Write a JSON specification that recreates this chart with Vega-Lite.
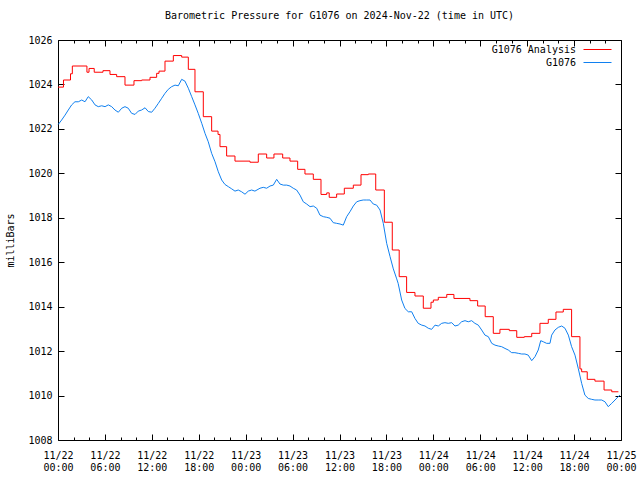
{
"$schema":"https://vega.github.io/schema/vega-lite/v6.json",
"width":563,"height":400,
"autosize":{"type":"none"},
"padding":{"left":58,"top":40,"right":19,"bottom":40},
"background":"white",
"title":{"text":"Barometric Pressure for G1076 on 2024-Nov-22 (time in UTC)","font":"DejaVu Sans Mono","fontSize":10,"fontWeight":"normal","offset":14,"anchor":"middle","color":"black"},
"config":{"view":{"stroke":"black","strokeWidth":1},"font":"DejaVu Sans Mono",
"axis":{"labelFont":"DejaVu Sans Mono","labelFontSize":10,"labelColor":"black","titleFont":"DejaVu Sans Mono","titleFontSize":10,"titleFontWeight":"normal","titleColor":"black","tickColor":"black","tickWidth":1,"grid":false,"domain":false},
"legend":{"orient":"none","direction":"vertical","title":null,"symbolType":"stroke","symbolSize":784,"symbolStrokeWidth":1,"labelAlign":"right","labelOffset":-36,"labelFontSize":10,"labelFont":"DejaVu Sans Mono","labelColor":"black","padding":0}},
"datasets":{
"an":[
{"t":"2024-11-22T00:00:00Z","p":1023.88},{"t":"2024-11-22T00:42:00Z","p":1024.20},{"t":"2024-11-22T01:36:00Z","p":1024.48},{"t":"2024-11-22T01:50:00Z","p":1024.83},{"t":"2024-11-22T03:42:00Z","p":1024.55},{"t":"2024-11-22T03:58:00Z","p":1024.72},{"t":"2024-11-22T04:38:00Z","p":1024.55},{"t":"2024-11-22T05:45:00Z","p":1024.62},{"t":"2024-11-22T06:39:00Z","p":1024.45},{"t":"2024-11-22T07:30:00Z","p":1024.35},{"t":"2024-11-22T08:34:00Z","p":1023.97},{"t":"2024-11-22T09:43:00Z","p":1024.17},{"t":"2024-11-22T10:42:00Z","p":1024.20},{"t":"2024-11-22T11:46:00Z","p":1024.32},{"t":"2024-11-22T12:37:00Z","p":1024.50},{"t":"2024-11-22T12:55:00Z","p":1024.60},{"t":"2024-11-22T13:41:00Z","p":1025.05},{"t":"2024-11-22T14:45:00Z","p":1025.30},{"t":"2024-11-22T15:49:00Z","p":1025.23},{"t":"2024-11-22T16:40:00Z","p":1024.68},{"t":"2024-11-22T17:31:00Z","p":1023.67},{"t":"2024-11-22T18:35:00Z","p":1022.55},{"t":"2024-11-22T19:39:00Z","p":1021.90},{"t":"2024-11-22T20:28:00Z","p":1021.75},{"t":"2024-11-22T20:43:00Z","p":1021.20},{"t":"2024-11-22T21:34:00Z","p":1020.78},{"t":"2024-11-22T22:38:00Z","p":1020.55},
{"t":"2024-11-23T00:33:00Z","p":1020.50},{"t":"2024-11-23T01:37:00Z","p":1020.87},{"t":"2024-11-23T02:41:00Z","p":1020.69},{"t":"2024-11-23T03:37:00Z","p":1020.87},{"t":"2024-11-23T04:44:00Z","p":1020.69},{"t":"2024-11-23T05:40:00Z","p":1020.55},{"t":"2024-11-23T06:39:00Z","p":1020.18},{"t":"2024-11-23T07:35:00Z","p":1019.97},{"t":"2024-11-23T08:39:00Z","p":1019.73},{"t":"2024-11-23T09:38:00Z","p":1019.05},{"t":"2024-11-23T10:22:00Z","p":1019.12},{"t":"2024-11-23T10:41:00Z","p":1018.92},{"t":"2024-11-23T11:38:00Z","p":1019.07},{"t":"2024-11-23T12:37:00Z","p":1019.33},{"t":"2024-11-23T13:46:00Z","p":1019.47},{"t":"2024-11-23T14:45:00Z","p":1019.94},{"t":"2024-11-23T15:41:00Z","p":1019.97},{"t":"2024-11-23T16:38:00Z","p":1019.25},{"t":"2024-11-23T17:44:00Z","p":1017.80},{"t":"2024-11-23T18:45:00Z","p":1016.55},{"t":"2024-11-23T19:38:00Z","p":1015.35},{"t":"2024-11-23T20:35:00Z","p":1014.64},{"t":"2024-11-23T21:39:00Z","p":1014.48},{"t":"2024-11-23T22:43:00Z","p":1013.93},{"t":"2024-11-23T23:42:00Z","p":1014.20},
{"t":"2024-11-24T00:00:00Z","p":1014.30},{"t":"2024-11-24T00:38:00Z","p":1014.42},{"t":"2024-11-24T01:43:00Z","p":1014.55},{"t":"2024-11-24T02:38:00Z","p":1014.37},{"t":"2024-11-24T04:41:00Z","p":1014.27},{"t":"2024-11-24T05:40:00Z","p":1014.03},{"t":"2024-11-24T06:38:00Z","p":1013.55},{"t":"2024-11-24T07:40:00Z","p":1012.80},{"t":"2024-11-24T08:31:00Z","p":1012.98},{"t":"2024-11-24T09:43:00Z","p":1012.92},{"t":"2024-11-24T10:40:00Z","p":1012.62},{"t":"2024-11-24T11:38:00Z","p":1012.65},{"t":"2024-11-24T12:35:00Z","p":1012.80},{"t":"2024-11-24T13:38:00Z","p":1013.25},{"t":"2024-11-24T14:42:00Z","p":1013.43},{"t":"2024-11-24T15:41:00Z","p":1013.76},{"t":"2024-11-24T16:37:00Z","p":1013.88},{"t":"2024-11-24T17:41:00Z","p":1012.65},{"t":"2024-11-24T18:45:00Z","p":1011.20},{"t":"2024-11-24T18:58:00Z","p":1011.07},{"t":"2024-11-24T19:41:00Z","p":1010.73},{"t":"2024-11-24T20:40:00Z","p":1010.65},{"t":"2024-11-24T21:50:00Z","p":1010.25},{"t":"2024-11-24T22:49:00Z","p":1010.17},{"t":"2024-11-24T23:40:00Z","p":1010.17}
],
"ob":[
{"t":"2024-11-22T00:02:00Z","p":1022.20},{"t":"2024-11-22T00:28:00Z","p":1022.40},{"t":"2024-11-22T00:54:00Z","p":1022.62},{"t":"2024-11-22T01:19:00Z","p":1022.85},{"t":"2024-11-22T01:45:00Z","p":1023.08},{"t":"2024-11-22T02:10:00Z","p":1023.22},{"t":"2024-11-22T02:36:00Z","p":1023.22},{"t":"2024-11-22T03:02:00Z","p":1023.30},{"t":"2024-11-22T03:27:00Z","p":1023.22},{"t":"2024-11-22T03:52:00Z","p":1023.45},{"t":"2024-11-22T04:19:00Z","p":1023.30},{"t":"2024-11-22T04:44:00Z","p":1023.08},{"t":"2024-11-22T05:09:00Z","p":1023.00},{"t":"2024-11-22T05:35:00Z","p":1023.04},{"t":"2024-11-22T06:01:00Z","p":1023.00},{"t":"2024-11-22T06:26:00Z","p":1023.08},{"t":"2024-11-22T06:52:00Z","p":1023.00},{"t":"2024-11-22T07:17:00Z","p":1022.85},{"t":"2024-11-22T07:43:00Z","p":1022.75},{"t":"2024-11-22T08:09:00Z","p":1022.93},{"t":"2024-11-22T08:34:00Z","p":1023.00},{"t":"2024-11-22T08:59:00Z","p":1022.93},{"t":"2024-11-22T09:25:00Z","p":1022.70},{"t":"2024-11-22T09:51:00Z","p":1022.65},{"t":"2024-11-22T10:16:00Z","p":1022.80},{"t":"2024-11-22T10:42:00Z","p":1022.85},{"t":"2024-11-22T11:08:00Z","p":1022.95},{"t":"2024-11-22T11:33:00Z","p":1022.78},{"t":"2024-11-22T11:59:00Z","p":1022.75},{"t":"2024-11-22T12:24:00Z","p":1022.93},{"t":"2024-11-22T12:50:00Z","p":1023.15},{"t":"2024-11-22T13:16:00Z","p":1023.38},{"t":"2024-11-22T13:41:00Z","p":1023.60},{"t":"2024-11-22T14:06:00Z","p":1023.78},{"t":"2024-11-22T14:32:00Z","p":1023.90},{"t":"2024-11-22T14:58:00Z","p":1023.97},{"t":"2024-11-22T15:23:00Z","p":1023.94},{"t":"2024-11-22T15:49:00Z","p":1024.23},{"t":"2024-11-22T16:14:00Z","p":1024.15},{"t":"2024-11-22T16:40:00Z","p":1023.83},{"t":"2024-11-22T17:06:00Z","p":1023.45},{"t":"2024-11-22T17:31:00Z","p":1023.08},{"t":"2024-11-22T17:56:00Z","p":1022.70},{"t":"2024-11-22T18:23:00Z","p":1022.25},{"t":"2024-11-22T18:48:00Z","p":1021.80},{"t":"2024-11-22T19:13:00Z","p":1021.42},{"t":"2024-11-22T19:39:00Z","p":1020.90},{"t":"2024-11-22T20:05:00Z","p":1020.52},{"t":"2024-11-22T20:30:00Z","p":1020.07},{"t":"2024-11-22T20:56:00Z","p":1019.70},{"t":"2024-11-22T21:21:00Z","p":1019.50},{"t":"2024-11-22T21:47:00Z","p":1019.40},{"t":"2024-11-22T22:13:00Z","p":1019.30},{"t":"2024-11-22T22:38:00Z","p":1019.20},{"t":"2024-11-22T23:03:00Z","p":1019.25},{"t":"2024-11-22T23:29:00Z","p":1019.17},{"t":"2024-11-22T23:55:00Z","p":1019.06},
{"t":"2024-11-23T00:20:00Z","p":1019.20},{"t":"2024-11-23T00:46:00Z","p":1019.25},{"t":"2024-11-23T01:11:00Z","p":1019.20},{"t":"2024-11-23T01:50:00Z","p":1019.33},{"t":"2024-11-23T02:15:00Z","p":1019.37},{"t":"2024-11-23T02:41:00Z","p":1019.33},{"t":"2024-11-23T03:07:00Z","p":1019.43},{"t":"2024-11-23T03:32:00Z","p":1019.47},{"t":"2024-11-23T03:58:00Z","p":1019.73},{"t":"2024-11-23T04:23:00Z","p":1019.52},{"t":"2024-11-23T04:49:00Z","p":1019.47},{"t":"2024-11-23T05:15:00Z","p":1019.47},{"t":"2024-11-23T05:40:00Z","p":1019.43},{"t":"2024-11-23T06:05:00Z","p":1019.33},{"t":"2024-11-23T06:31:00Z","p":1019.25},{"t":"2024-11-23T06:57:00Z","p":1019.02},{"t":"2024-11-23T07:22:00Z","p":1018.72},{"t":"2024-11-23T07:48:00Z","p":1018.62},{"t":"2024-11-23T08:14:00Z","p":1018.50},{"t":"2024-11-23T08:39:00Z","p":1018.53},{"t":"2024-11-23T09:05:00Z","p":1018.43},{"t":"2024-11-23T09:30:00Z","p":1018.12},{"t":"2024-11-23T09:56:00Z","p":1018.05},{"t":"2024-11-23T10:22:00Z","p":1018.02},{"t":"2024-11-23T10:47:00Z","p":1017.98},{"t":"2024-11-23T11:12:00Z","p":1017.78},{"t":"2024-11-23T11:38:00Z","p":1017.75},{"t":"2024-11-23T12:04:00Z","p":1017.72},{"t":"2024-11-23T12:29:00Z","p":1017.67},{"t":"2024-11-23T12:55:00Z","p":1018.05},{"t":"2024-11-23T13:20:00Z","p":1018.27},{"t":"2024-11-23T13:46:00Z","p":1018.53},{"t":"2024-11-23T14:12:00Z","p":1018.72},{"t":"2024-11-23T14:37:00Z","p":1018.77},{"t":"2024-11-23T15:02:00Z","p":1018.80},{"t":"2024-11-23T15:29:00Z","p":1018.80},{"t":"2024-11-23T15:54:00Z","p":1018.80},{"t":"2024-11-23T16:19:00Z","p":1018.62},{"t":"2024-11-23T16:45:00Z","p":1018.57},{"t":"2024-11-23T17:11:00Z","p":1018.35},{"t":"2024-11-23T17:36:00Z","p":1017.75},{"t":"2024-11-23T18:02:00Z","p":1016.85},{"t":"2024-11-23T18:28:00Z","p":1016.25},{"t":"2024-11-23T18:53:00Z","p":1015.70},{"t":"2024-11-23T19:19:00Z","p":1015.25},{"t":"2024-11-23T19:30:00Z","p":1015.05},{"t":"2024-11-23T19:57:00Z","p":1014.30},{"t":"2024-11-23T20:22:00Z","p":1013.92},{"t":"2024-11-23T20:48:00Z","p":1013.77},{"t":"2024-11-23T21:14:00Z","p":1013.77},{"t":"2024-11-23T21:39:00Z","p":1013.47},{"t":"2024-11-23T22:04:00Z","p":1013.25},{"t":"2024-11-23T22:31:00Z","p":1013.17},{"t":"2024-11-23T22:56:00Z","p":1013.13},{"t":"2024-11-23T23:21:00Z","p":1013.03},{"t":"2024-11-23T23:47:00Z","p":1012.98},
{"t":"2024-11-24T00:13:00Z","p":1013.17},{"t":"2024-11-24T00:38:00Z","p":1013.13},{"t":"2024-11-24T01:04:00Z","p":1013.25},{"t":"2024-11-24T01:29:00Z","p":1013.28},{"t":"2024-11-24T01:55:00Z","p":1013.25},{"t":"2024-11-24T02:21:00Z","p":1013.28},{"t":"2024-11-24T02:46:00Z","p":1013.13},{"t":"2024-11-24T03:11:00Z","p":1013.17},{"t":"2024-11-24T03:37:00Z","p":1013.32},{"t":"2024-11-24T04:03:00Z","p":1013.37},{"t":"2024-11-24T04:28:00Z","p":1013.32},{"t":"2024-11-24T04:54:00Z","p":1013.37},{"t":"2024-11-24T05:19:00Z","p":1013.25},{"t":"2024-11-24T05:45:00Z","p":1013.17},{"t":"2024-11-24T06:11:00Z","p":1012.95},{"t":"2024-11-24T06:36:00Z","p":1012.72},{"t":"2024-11-24T07:02:00Z","p":1012.65},{"t":"2024-11-24T07:28:00Z","p":1012.35},{"t":"2024-11-24T07:53:00Z","p":1012.27},{"t":"2024-11-24T08:18:00Z","p":1012.23},{"t":"2024-11-24T08:44:00Z","p":1012.20},{"t":"2024-11-24T09:10:00Z","p":1012.12},{"t":"2024-11-24T09:35:00Z","p":1012.05},{"t":"2024-11-24T10:01:00Z","p":1011.93},{"t":"2024-11-24T10:26:00Z","p":1011.93},{"t":"2024-11-24T10:52:00Z","p":1011.90},{"t":"2024-11-24T11:18:00Z","p":1011.87},{"t":"2024-11-24T11:43:00Z","p":1011.87},{"t":"2024-11-24T12:08:00Z","p":1011.82},{"t":"2024-11-24T12:35:00Z","p":1011.57},{"t":"2024-11-24T13:00:00Z","p":1011.75},{"t":"2024-11-24T13:25:00Z","p":1012.05},{"t":"2024-11-24T13:44:00Z","p":1012.47},{"t":"2024-11-24T14:04:00Z","p":1012.42},{"t":"2024-11-24T14:29:00Z","p":1012.35},{"t":"2024-11-24T14:55:00Z","p":1012.35},{"t":"2024-11-24T15:08:00Z","p":1012.72},{"t":"2024-11-24T15:33:00Z","p":1012.95},{"t":"2024-11-24T15:59:00Z","p":1013.07},{"t":"2024-11-24T16:25:00Z","p":1013.13},{"t":"2024-11-24T16:50:00Z","p":1013.03},{"t":"2024-11-24T17:16:00Z","p":1012.72},{"t":"2024-11-24T17:41:00Z","p":1012.20},{"t":"2024-11-24T18:07:00Z","p":1011.82},{"t":"2024-11-24T18:32:00Z","p":1011.22},{"t":"2024-11-24T18:58:00Z","p":1010.55},{"t":"2024-11-24T19:23:00Z","p":1010.02},{"t":"2024-11-24T19:49:00Z","p":1009.87},{"t":"2024-11-24T20:15:00Z","p":1009.83},{"t":"2024-11-24T20:40:00Z","p":1009.80},{"t":"2024-11-24T21:05:00Z","p":1009.80},{"t":"2024-11-24T21:32:00Z","p":1009.80},{"t":"2024-11-24T21:57:00Z","p":1009.72},{"t":"2024-11-24T22:22:00Z","p":1009.50},{"t":"2024-11-24T22:49:00Z","p":1009.65},{"t":"2024-11-24T23:14:00Z","p":1009.80},{"t":"2024-11-24T23:39:00Z","p":1009.95},{"t":"2024-11-24T23:52:00Z","p":1010.02}
]},
"layer":[
{"data":{"name":"an"},
 "transform":[{"calculate":"'G1076 Analysis'","as":"series"}],
 "mark":{"type":"line","interpolate":"step-after","strokeWidth":1},
 "encoding":{
  "x":{"field":"t","type":"temporal","scale":{"type":"utc","domain":[1732233600000,1732492800000]},
       "axis":{"orient":"bottom","title":null,"values":[1732233600000,1732255200000,1732276800000,1732298400000,1732320000000,1732341600000,1732363200000,1732384800000,1732406400000,1732428000000,1732449600000,1732471200000,1732492800000],
               "labelOverlap":false,"labelFlush":false,"tickSize":-6,
               "labelExpr":"[utcFormat(datum.value,'%m/%d'), utcFormat(datum.value,'%H:%M')]",
               "labelPadding":16,"labelLineHeight":12,"labelBaseline":"top"}},
  "y":{"field":"p","type":"quantitative","scale":{"domain":[1008,1026],"zero":false,"nice":false},
       "axis":{"orient":"left","title":"milliBars","values":[1008,1010,1012,1014,1016,1018,1020,1022,1024,1026],"format":"d","tickSize":-6,"labelPadding":12,"titlePadding":12}},
  "color":{"field":"series","type":"nominal","scale":{"domain":["G1076 Analysis"],"range":["#ff0000"]},
       "legend":{"legendX":525,"legendY":-5,"symbolStrokeColor":"#ff0000"}}
 }},
{"data":{"name":"ob"},
 "transform":[{"calculate":"'G1076'","as":"series"}],
 "mark":{"type":"line","interpolate":"linear","strokeWidth":1},
 "encoding":{
  "x":{"field":"t","type":"temporal",
       "axis":{"orient":"top","title":null,"labels":false,"tickSize":-6,"values":[1732233600000,1732255200000,1732276800000,1732298400000,1732320000000,1732341600000,1732363200000,1732384800000,1732406400000,1732428000000,1732449600000,1732471200000,1732492800000]}},
  "y":{"field":"p","type":"quantitative",
       "axis":{"orient":"right","title":null,"labels":false,"values":[1008,1010,1012,1014,1016,1018,1020,1022,1024,1026],"tickSize":-6}},
  "color":{"field":"series","type":"nominal","scale":{"domain":["G1076"],"range":["#1080f0"]},
       "legend":{"legendX":525,"legendY":8,"symbolStrokeColor":"#1080f0"}}
 }},
{"data":{"name":"ob"},
 "mark":{"type":"line","strokeOpacity":0},
 "encoding":{
  "x":{"field":"t","type":"temporal",
       "axis":{"orient":"bottom","title":null,"labels":false,"tickSize":-3,"values":[1732240800000,1732248000000,1732262400000,1732269600000,1732284000000,1732291200000,1732305600000,1732312800000,1732327200000,1732334400000,1732348800000,1732356000000,1732370400000,1732377600000,1732392000000,1732399200000,1732413600000,1732420800000,1732435200000,1732442400000,1732456800000,1732464000000,1732478400000,1732485600000]}},
  "y":{"field":"p","type":"quantitative","axis":null}
 }},
{"data":{"name":"ob"},
 "mark":{"type":"line","strokeOpacity":0},
 "encoding":{
  "x":{"field":"t","type":"temporal",
       "axis":{"orient":"top","title":null,"labels":false,"tickSize":-3,"values":[1732240800000,1732248000000,1732262400000,1732269600000,1732284000000,1732291200000,1732305600000,1732312800000,1732327200000,1732334400000,1732348800000,1732356000000,1732370400000,1732377600000,1732392000000,1732399200000,1732413600000,1732420800000,1732435200000,1732442400000,1732456800000,1732464000000,1732478400000,1732485600000]}},
  "y":{"field":"p","type":"quantitative","axis":null}
 }}
],
"resolve":{"axis":{"x":"independent","y":"independent"},"scale":{"color":"independent"},"legend":{"color":"independent"}}
}
